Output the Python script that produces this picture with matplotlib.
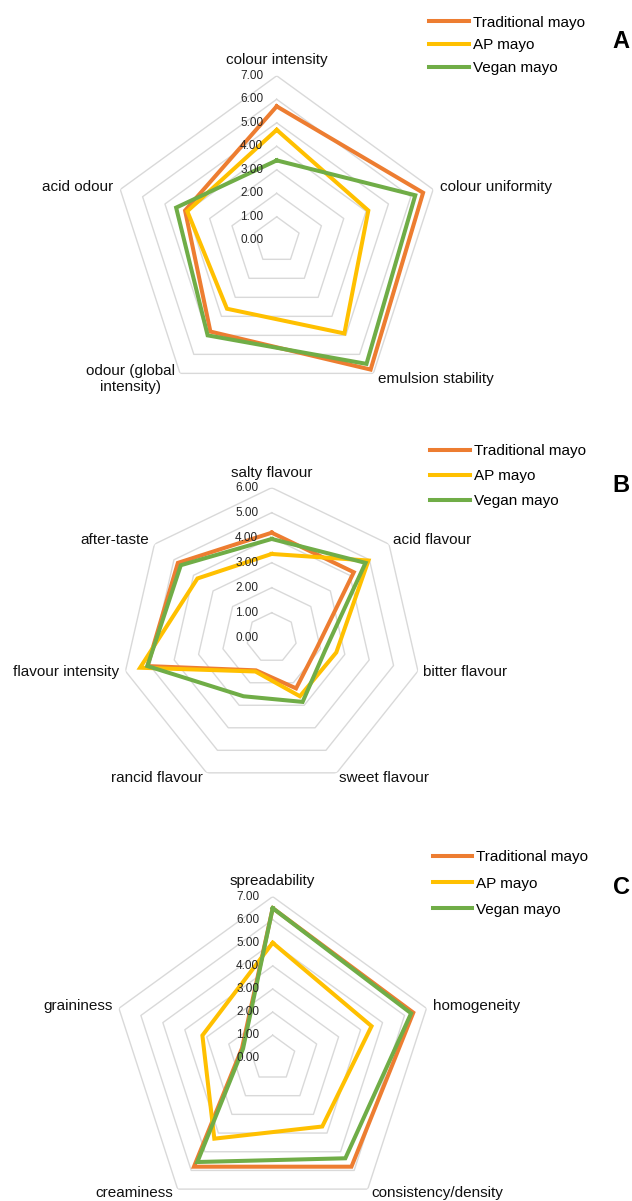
import numpy as np
import matplotlib.pyplot as plt

plt.rcParams['font.family'] = ['Liberation Sans', 'DejaVu Sans']

series_names = ["Traditional mayo", "AP mayo", "Vegan mayo"]
series_colors = ["#ED7D31", "#FFC000", "#70AD47"]

# A: appearance and odour
attrs_a = ["colour intensity", "colour uniformity", "emulsion stability",
           "odour (global\nintensity)", "acid odour"]
trad_a = [5.7, 6.55, 6.8, 4.8, 4.1]
ap_a = [4.7, 4.1, 4.9, 3.6, 4.0]
vegan_a = [3.4, 6.2, 6.5, 5.0, 4.5]

# B: flavour
attrs_b = ["salty flavour", "acid flavour", "bitter flavour", "sweet flavour",
           "rancid flavour", "flavour intensity", "after-taste"]
trad_b = [4.2, 4.2, 1.85, 2.25, 1.45, 5.1, 4.8]
ap_b = [3.35, 4.95, 2.65, 2.6, 1.5, 5.4, 3.8]
vegan_b = [3.95, 4.8, 2.2, 2.85, 2.6, 5.1, 4.65]

# C: texture
attrs_c = ["spreadability", "homogeneity", "consistency/density",
           "creaminess", "graininess"]
trad_c = [6.5, 6.4, 5.8, 5.8, 1.4]
ap_c = [5.0, 4.5, 3.65, 4.3, 3.2]
vegan_c = [6.5, 6.3, 5.35, 5.55, 1.35]

W, H = 632, 1201
PT = 0.72  # pixels -> points at 100 dpi

# label placement around the outer ring: (ha, dx px, dy px)
layout_a = [("center", 0, 16), ("left", 7, 2.5), ("left", 4.6, -5.6),
            ("right", -5, -5.6), ("right", -7, 2)]
layout_b = [("center", 0, 14.4), ("left", 4.3, 4.3), ("left", 5.3, -1.3),
            ("left", 2.2, -5), ("right", -3.6, -5), ("right", -6.4, -1),
            ("right", -5.4, 4.3)]
layout_c = [("center", 0, 16), ("left", 6.2, 2.6), ("left", 4, -4.2),
            ("right", -5, -4), ("right", -6.6, 2.6)]


def radar(fig, center, radius, rmax, attrs, series, layout):
    cx, cy = center
    rect = [(cx - radius) / W, (H - cy - radius) / H, 2 * radius / W, 2 * radius / H]
    ax = fig.add_axes(rect, projection="polar")
    ax.set_theta_zero_location("N")
    ax.set_theta_direction(-1)
    ax.set_ylim(0, rmax)
    ax.set_xticks([])
    ax.set_yticks([])
    ax.grid(False)
    ax.spines["polar"].set_visible(False)

    n = len(attrs)
    theta = np.linspace(0, 2 * np.pi, n, endpoint=False)
    closed = np.append(theta, theta[0])

    # polygon gridlines
    for r in range(1, rmax + 1):
        ax.plot(closed, [r] * (n + 1), color="#D9D9D9", lw=1.0, zorder=1)

    for vals, color in zip(series, series_colors):
        ax.plot(closed, list(vals) + [vals[0]], color=color, lw=2.9,
                solid_joinstyle="miter", zorder=3)

    for r in range(0, rmax + 1):
        ax.annotate(f"{r:.2f}", xy=(0, r), xytext=(-13.4 * PT, 0),
                    textcoords="offset points", ha="right", va="center",
                    fontsize=8.5, color="#262626", zorder=6)

    for t, label, (ha, dx, dy) in zip(theta, attrs, layout):
        ax.annotate(label, xy=(t, rmax), xytext=(dx * PT, dy * PT),
                    textcoords="offset points", ha=ha, va="center",
                    multialignment="center", fontsize=11, color="#111111",
                    zorder=5)
    return ax


def legend(fig, ax, x, y, spacing):
    fig.legend(ax.get_lines()[-3:], series_names, loc="upper left",
               bbox_to_anchor=(x / W, 1 - y / H), frameon=False,
               borderpad=0, borderaxespad=0, fontsize=11,
               handlelength=2.6, handletextpad=0.25, labelspacing=spacing)


fig = plt.figure(figsize=(W / 100, H / 100), dpi=100)

ax_a = radar(fig, (276.7, 240.3), 164.5, 7, attrs_a, [trad_a, ap_a, vegan_a], layout_a)
ax_b = radar(fig, (271.7, 637.7), 150.0, 6, attrs_b, [trad_b, ap_b, vegan_b], layout_b)
ax_c = radar(fig, (272.7, 1058.3), 161.7, 7, attrs_c, [trad_c, ap_c, vegan_c], layout_c)

legend(fig, ax_a, 429.3, 15.5, 0.57)
legend(fig, ax_b, 430.0, 444.5, 0.71)
legend(fig, ax_c, 432.7, 850.5, 0.79)

for letter, y in zip("ABC", [41.7, 486.0, 887.0]):
    fig.text(621 / W, 1 - y / H, letter, fontsize=17, fontweight="bold",
             ha="center", va="center")

fig.savefig("out.png", dpi=100)
